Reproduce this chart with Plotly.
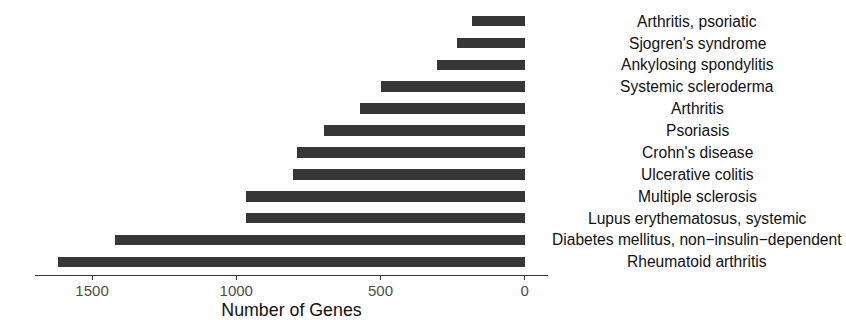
import plotly.graph_objects as go

diseases = [
    "Rheumatoid arthritis",
    "Diabetes mellitus, non\u2212insulin\u2212dependent",
    "Lupus erythematosus, systemic",
    "Multiple sclerosis",
    "Ulcerative colitis",
    "Crohn's disease",
    "Psoriasis",
    "Arthritis",
    "Systemic scleroderma",
    "Ankylosing spondylitis",
    "Sjogren's syndrome",
    "Arthritis, psoriatic",
]
gene_counts = [1617, 1420, 968, 966, 802, 791, 695, 572, 499, 303, 234, 182]
tick_values = [0, 500, 1000, 1500]
tick_labels = ["0", "500", "1000", "1500"]

fig = go.Figure()
fig.add_trace(go.Bar(
    x=gene_counts,
    y=diseases,
    orientation="h",
    width=0.49,
    marker=dict(color="#363636", line=dict(width=0)),
    hoverinfo="x+y",
))

for d in diseases:
    fig.add_annotation(
        x=1.2912, xref="paper", y=d, yref="y",
        text=d, showarrow=False, xanchor="center", yanchor="middle",
        font=dict(family="Liberation Sans, Arial, sans-serif", size=15.6, color="#111111"),
    )

fig.update_layout(
    width=846, height=320,
    margin=dict(l=35, r=298, t=8, b=45, autoexpand=False),
    paper_bgcolor="white", plot_bgcolor="white",
    showlegend=False,
    bargap=0,
    font=dict(family="Liberation Sans, Arial, sans-serif"),
)
max_v = max(gene_counts)
fig.update_xaxes(
    range=[max_v * 1.05, -max_v * 0.05],
    tickvals=tick_values, ticktext=tick_labels,
    ticks="outside", ticklen=4, tickwidth=1, tickcolor="#333333",
    ticklabelstandoff=-2,
    showline=True, linecolor="#333333", linewidth=1,
    showgrid=False, zeroline=False, automargin=True,
    tickfont=dict(size=15, color="#4D4D4D"),
    title=dict(text="Number of Genes", font=dict(size=17.8, color="#111111"), standoff=10),
)
fig.update_yaxes(
    categoryorder="array", categoryarray=diseases,
    range=[-0.6, len(diseases) - 0.4],
    showticklabels=False, showline=False, showgrid=False, zeroline=False, ticks="",
    automargin=False,
)

fig.write_html(
    "out.html",
    config={"displayModeBar": False},
    post_script="document.body.style.margin='0';document.body.style.padding='0';",
)
